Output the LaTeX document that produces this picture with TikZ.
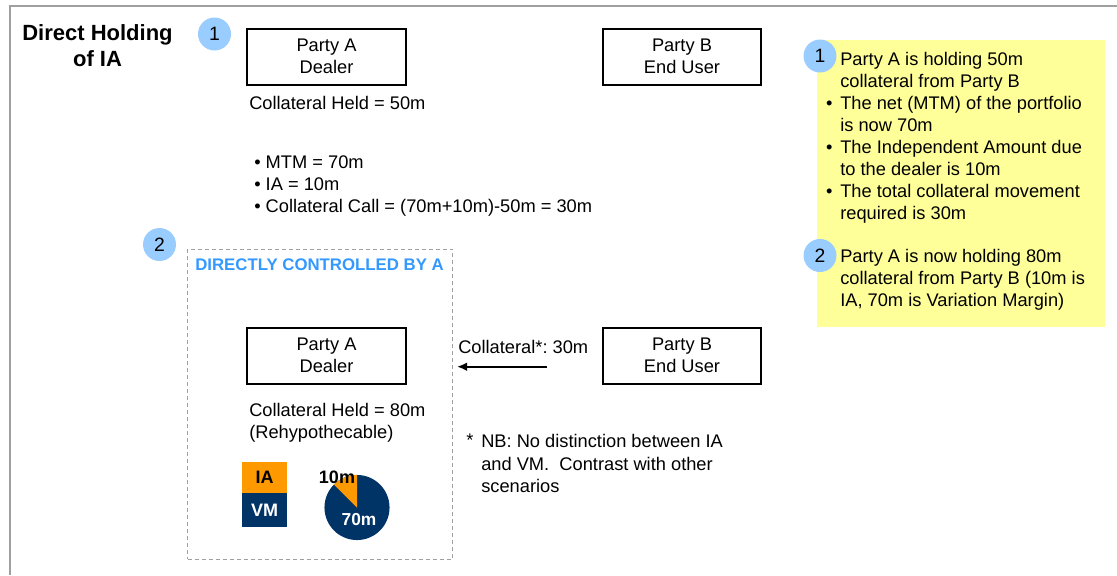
\documentclass[tikz,border=0pt]{standalone}
\usepackage{fontspec}
\setmainfont{Liberation Sans}
\usepackage{tikz}
\usetikzlibrary{shapes,arrows.meta}
\definecolor{numblue}{RGB}{153,204,255}
\definecolor{ctrlblue}{RGB}{51,153,255}
\definecolor{navy}{RGB}{0,51,102}
\definecolor{iaorange}{RGB}{255,153,0}
\definecolor{noteyellow}{RGB}{255,255,153}
\definecolor{framegray}{RGB}{160,160,160}
\tikzstyle{txt}=[inner sep=0pt, font=\fontsize{13.7}{16.4}\selectfont]
\tikzstyle{party}=[txt, draw, line width=1.5pt, minimum width=119pt, minimum height=42pt, align=center]
\tikzstyle{num}=[txt, circle, fill=numblue, minimum size=24.75pt, font=\fontsize{14.5}{16}\selectfont]
\tikzstyle{lbl}=[txt, anchor=base west, align=left]
\tikzstyle{boldlbl}=[inner sep=0pt, font=\bfseries\fontsize{13.5}{15}\selectfont]
\newcommand{\bul}{\llap{\textbullet\hspace{5.8pt}}}

\begin{document}
\begin{tikzpicture}[x=0.75pt, y=-0.75pt]
\useasboundingbox (0,0) rectangle (1117,575);
\draw[framegray, line width=1.1pt] (10,575) -- (10,6) -- (1117,6);
% anchor=base of a multi-line node sits on its last line
\node[txt, font=\bfseries\fontsize{16.5}{19.5}\selectfont, align=center, anchor=base] (title) at (97.5,66.7) {Direct Holding\\of IA};

% step 1
\node[num] (n1) at (214.5,34) {1};
\node[party] (a1) at (326.5,56.5) {Party A\\Dealer};
\node[party] (b1) at (682,56.5) {Party B\\End User};
\node[lbl] (held1) at (249,109.3) {Collateral Held = 50m};
\node[lbl, font=\fontsize{13.7}{16.6}\selectfont] (calc) at (254,212.7) {\textbullet\ MTM = 70m\\\textbullet\ IA = 10m\\\textbullet\ Collateral Call = (70m+10m)-50m = 30m};

% step 2
\node[num] (n2) at (159.5,244.5) {2};
\node[draw=framegray, line width=0.8pt, dash pattern=on 3pt off 2.25pt, minimum width=198.75pt, minimum height=232.5pt] (ctrl) at (320.2,404.3) {};
\node[txt, font=\bfseries\fontsize{12.6}{15}\selectfont, text=ctrlblue, anchor=west] (ctrltitle) at (195,265) {DIRECTLY CONTROLLED BY A};
\node[party] (a2) at (326.5,355.5) {Party A\\Dealer};
\node[party] (b2) at (682,355.5) {Party B\\End User};
\coordinate (arrfrom) at (547,366.7);
\coordinate (arrto) at (457,366.7);
\draw[-{Latex[length=7.5pt,width=6.5pt]}, line width=1.5pt] (arrfrom) -- (arrto);
\node[lbl] (colllbl) at (458,353.3) {Collateral*:~30m};
\node[lbl] (held2) at (249,438.5) {Collateral Held = 80m\\(Rehypothecable)};
\node[txt] (star) at (470,440) {*};
\node[lbl, font=\fontsize{13.7}{16.8}\selectfont] (nb) at (481,492.5) {NB: No distinction between IA\\and VM.\ \ Contrast with other\\scenarios};

% IA / VM split
\node[boldlbl, fill=iaorange, minimum width=33.5pt, minimum height=23pt] (ia) at (264.5,477.5) {IA};
\node[boldlbl, fill=navy, text=white, minimum width=33.5pt, minimum height=25.5pt, anchor=north] (vm) at (ia.south) {VM};
\coordinate (pie) at (357,507.5);
\fill[navy] (pie) circle (24.4pt);
\fill[iaorange] (pie) -- ++(90:24.4pt) arc (90:135:24.4pt) -- cycle;
\node[boldlbl] (tenm) at (337,477) {10m};
\node[boldlbl, text=white, font=\bfseries\fontsize{13}{15}\selectfont] (seventym) at (359,519.5) {70m};

% notes
\node[fill=noteyellow, minimum width=216pt, minimum height=215.25pt] (note) at (961,183.5) {};
\node[num] (y1) at (820,56) {1};
\node[num] (y2) at (820,255.5) {2};
\node[lbl] (notetxt) at (840,306.5) {Party A is holding 50m\\collateral from Party B\\\bul The net (MTM) of the portfolio\\is now 70m\\\bul The Independent Amount due\\to the dealer is 10m\\\bul The total collateral movement\\required is 30m\\[16.4pt]Party A is now holding 80m\\collateral from Party B (10m is\\IA, 70m is Variation Margin)};
\end{tikzpicture}
\end{document}
